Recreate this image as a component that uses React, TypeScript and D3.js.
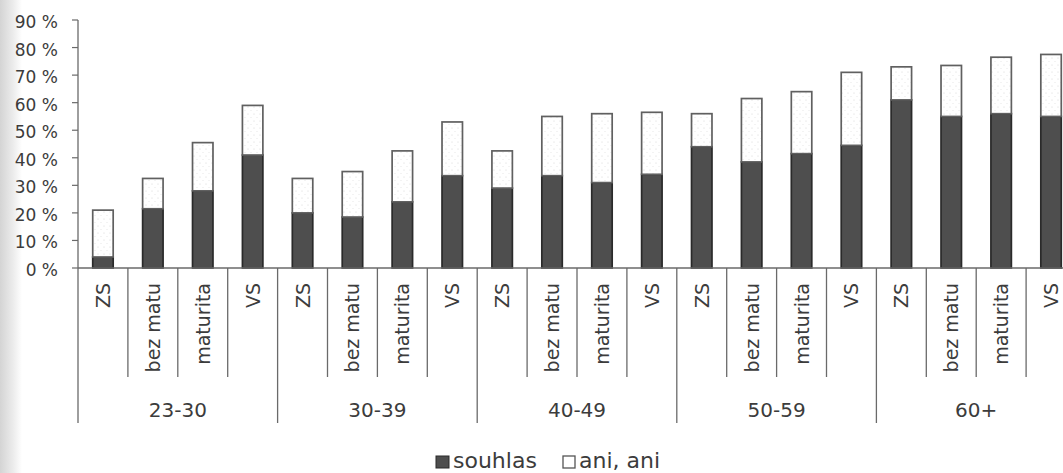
import React from 'react';
import * as d3 from 'd3';

const groups = ['23-30', '30-39', '40-49', '50-59', '60+'];
const levels = ['ZS', 'bez matu', 'maturita', 'VS'];
const souhlas = [4, 21.5, 28, 41, 20, 18.5, 24, 33.5, 29, 33.5, 31, 34, 44, 38.5, 41.5, 44.5, 61, 55, 56, 55];
const aniAni = [17, 11, 17.5, 18, 12.5, 16.5, 18.5, 19.5, 13.5, 21.5, 25, 22.5, 12, 23, 22.5, 26.5, 12, 18.5, 20.5, 22.5];
const yTicks = [0, 10, 20, 30, 40, 50, 60, 70, 80, 90];
const seriesNames = ['souhlas', 'ani, ani'];

const W = 1063;
const H = 473;
const FONT = '"DejaVu Sans", sans-serif';
const TXT = '#3c3c3c';
const AX = '#6a6a6a';

export default function App() {
  const keys = groups.flatMap((g) => levels.map((l) => g + '|' + l));
  const rows = keys.map((k, i) => ({ key: k, souhlas: souhlas[i], ani: aniAni[i] }));
  const x0 = 78;
  const stepPx = 49.9;
  const x = d3
    .scaleBand<string>()
    .domain(keys)
    .range([x0, x0 + keys.length * stepPx])
    .paddingInner(0.59)
    .paddingOuter(0.295);
  const y = d3.scaleLinear().domain([0, 90]).range([268, 20]);
  const stack = d3.stack<any>().keys(['souhlas', 'ani']);
  const series = stack(rows);
  const step = x.step();
  const bw = x.bandwidth();
  const cellStart = (i: number) => x(keys[i])! + bw / 2 - step / 2;
  const base = y(0);

  return (
    <svg
      width={W}
      height={H}
      style={{ position: 'absolute', left: 0, top: 0, background: '#fff', overflow: 'hidden' }}
      fontFamily={FONT}
    >
      <defs>
        <linearGradient id="scan" x1="0" x2="1" y1="0" y2="0">
          <stop offset="0" stopColor="#d4d4d4" />
          <stop offset="0.6" stopColor="#ececec" />
          <stop offset="1" stopColor="#ffffff" />
        </linearGradient>
        <pattern id="dots" width="6" height="7" patternUnits="userSpaceOnUse">
          <rect width="6" height="7" fill="#fff" />
          <circle cx="2" cy="2" r="0.6" fill="#d6d6d6" />
          <circle cx="5" cy="5.5" r="0.5" fill="#e0e0e0" />
        </pattern>
      </defs>
      <rect x={0} y={0} width={W} height={H} fill="#fff" />
      <rect x={0} y={0} width={22} height={H} fill="url(#scan)" />

      {/* y axis */}
      <line x1={x0} x2={x0} y1={y(90)} y2={base} stroke={AX} strokeWidth={1.3} />
      {yTicks.map((t) => (
        <g key={t}>
          <line x1={x0 - 6} x2={x0} y1={y(t)} y2={y(t)} stroke={AX} strokeWidth={1.2} />
          <text
            x={58}
            y={y(t) + 2}
            textAnchor="end"
            dominantBaseline="central"
            fontSize={17}
            fill={TXT}
          >
            {t + ' %'}
          </text>
        </g>
      ))}

      {/* bars */}
      {series.map((s, si) =>
        s.map((d, i) => (
          <rect
            key={si + '-' + i}
            x={x(keys[i])}
            y={y(d[1])}
            width={bw}
            height={y(d[0]) - y(d[1])}
            fill={si === 0 ? '#4e4e4e' : 'url(#dots)'}
            stroke={si === 0 ? '#2a2a2a' : '#606060'}
            strokeWidth={1.7}
          />
        ))
      )}

      {/* x axis */}
      <line x1={x0} x2={x0 + keys.length * step} y1={base} y2={base} stroke={AX} strokeWidth={1.3} />
      {keys.map((k, i) => (
        <line
          key={'sep' + i}
          x1={cellStart(i)}
          x2={cellStart(i)}
          y1={base}
          y2={i % levels.length === 0 ? 423 : 377}
          stroke={AX}
          strokeWidth={1.3}
        />
      ))}
      <line
        x1={cellStart(keys.length - 1) + step}
        x2={cellStart(keys.length - 1) + step}
        y1={base}
        y2={423}
        stroke={AX}
        strokeWidth={1.3}
      />
      {keys.map((k, i) => {
        const cx = x(k)! + bw / 2;
        return (
          <text
            key={'lab' + i}
            transform={`translate(${cx},283) rotate(-90)`}
            textAnchor="end"
            dominantBaseline="central"
            fontSize={19}
            fill={TXT}
          >
            {levels[i % levels.length]}
          </text>
        );
      })}
      {groups.map((g, gi) => {
        const cx = cellStart(gi * levels.length) + (step * levels.length) / 2;
        return (
          <text key={g} x={cx} y={417} textAnchor="middle" fontSize={20} fill={TXT}>
            {g}
          </text>
        );
      })}

      {/* legend */}
      <g>
        <rect x={436} y={456} width={13} height={12} fill="#4e4e4e" stroke="#2a2a2a" strokeWidth={1} />
        <text x={453} y={468} fontSize={22} fill={TXT}>
          {seriesNames[0]}
        </text>
        <rect x={563} y={456} width={12} height={12} fill="#fff" stroke="#555" strokeWidth={1.3} />
        <text x={579} y={468} fontSize={22} fill={TXT}>
          {seriesNames[1]}
        </text>
      </g>
    </svg>
  );
}
